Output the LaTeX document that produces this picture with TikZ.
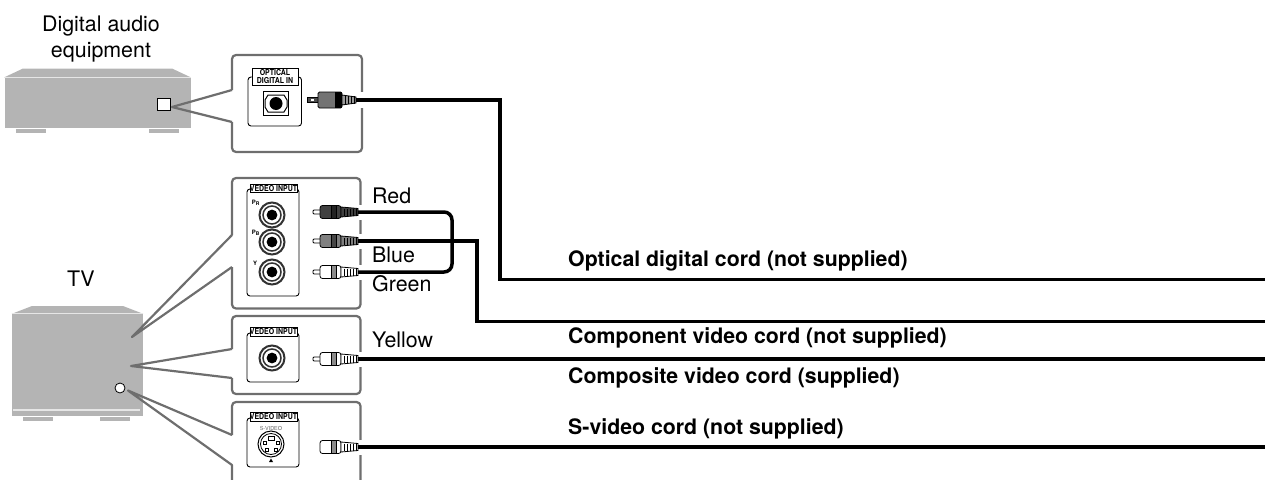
\documentclass[tikz,border=0pt]{standalone}
\usepackage{fontspec}
\setmainfont{TeX Gyre Heros}
\tikzset{
  gearbody/.style={fill=gearcol,inner sep=0pt,minimum width=#1},
  gearpart/.style={fill=gearcol,draw=none},
  gearline/.style={draw=gearlight,line width=1.2pt},
  callout/.style={draw=calloutcol,line width=2.2pt,line join=round},
  innerbox/.style={draw=black,line width=.9pt,rounded corners=3pt,fill=white},
  cord/.style={draw=black,line width=3.5pt,line join=miter},
  gaplabel/.style={font=\fontsize{21.4}{26}\selectfont,anchor=base west,inner sep=0pt},
  cordlabel/.style={font=\bfseries\fontsize{21.3}{25}\selectfont,anchor=base west,inner sep=0pt},
  tagbox/.style={draw=black,line width=.7pt,fill=white,inner sep=0pt,font=\bfseries\fontsize{8.2}{8.6}\selectfont,
    minimum height=8.5pt,xscale=.85,transform shape,align=center},
  tinylabel/.style={font=\bfseries\fontsize{6}{6}\selectfont,inner sep=0pt},
}
\definecolor{gearcol}{HTML}{B4B4B4}
\definecolor{gearlight}{HTML}{E6E6E6}
\definecolor{calloutcol}{HTML}{6E6E6E}
\definecolor{plugred}{HTML}{404040}
\definecolor{plugblue}{HTML}{808080}
\newcommand{\rcajack}[2]{%
  \node (#1) at #2 [circle,draw=black!80,line width=2pt,fill=white,minimum size=25pt,inner sep=0pt] {};
  \draw[black!80,line width=1.5pt] (#1) circle (9pt);
  \fill[black] (#1) circle (5.4pt);
}
\newcommand{\cordplug}[5]{%
  \coordinate (#1) at (358,#2);
  \fill[white] (353,#2-7.5) rectangle (367,#2+7.5);
  \ifx&#5&\else
  \draw[black,line width=.8pt,fill=white,rounded corners=1pt] (313,#2-2) rectangle (322,#2+2);
  \fi
  \draw[black,line width=.8pt,fill=#3,rounded corners=2.5pt] (#4,#2-6.5) rectangle (341,#2+6.5);
  \draw[black,line width=.8pt,fill=#3!55!black] (331,#2-6.5) rectangle (336,#2+6.5);
  \draw[black,line width=.8pt,fill=#3] (341,#2-5) -- (358,#2-3.5) -- (358,#2+3.5) -- (341,#2+5) -- cycle;
  \foreach \xpos in {344,347,...,356}
    \draw[black,line width=.9pt] (\xpos,#2-3.5) -- (\xpos,#2+3.5);
}
\begin{document}
\begin{tikzpicture}[x=1pt,y=-1pt]
  \useasboundingbox (0,0) rectangle (1265,479);
  \node (audio) at (97.5,102.5) [gearbody=186pt,minimum height=50pt] {};
  \fill[gearpart] (audio.north west) -- (23,68.5) -- (172,68.5) -- (audio.north east) -- cycle;
  \draw[gearline] (audio.north west) -- (audio.north east);
  \fill[gearpart] (16,129) rectangle (46,133);
  \fill[gearpart] (149,129) rectangle (179,133);
  \node (audiosocket) at (164,104) [draw=black,line width=.8pt,fill=white,minimum width=13pt,minimum height=12pt,inner sep=0pt] {};
  \node (audiotext) at (101,39.5) [font=\fontsize{21.4}{26}\selectfont,align=center,inner sep=0pt] {Digital audio\\equipment};
  \node (tv) at (77.5,365) [gearbody=131pt,minimum height=102pt] {};
  \fill[gearpart] (tv.north west) -- (32,306) -- (123,306) -- (tv.north east) -- cycle;
  \draw[gearline] (tv.north west) -- (tv.north east);
  \draw[gearline] (13,410) -- (140,410);
  \fill[gearpart] (23,417) rectangle (53,421);
  \fill[gearpart] (100,417) rectangle (130,421);
  \node (tvsocket) at (120,388) [circle,draw=black,line width=.8pt,fill=white,minimum size=10pt,inner sep=0pt] {};
  \node (tvtext) [gaplabel] at (67,286) {TV};
  \draw[callout,rounded corners=4pt] (232,90) -- (232,55) -- (362,55) -- (362,152) -- (232,152) -- (232,122);
  \draw[callout] (232,90) -- (172,107) -- (232,122);
  \draw[callout,rounded corners=4pt] (232,235) -- (232,178) -- (360.5,178) -- (360.5,308.5) -- (232,308.5) -- (232,267);
  \draw[callout] (232,235) -- (132,337) -- (232,267);
  \draw[callout,rounded corners=4pt] (232,349) -- (232,316) -- (360.5,316) -- (360.5,394) -- (232,394) -- (232,378);
  \draw[callout] (232,349) -- (131,366) -- (232,378);
  \draw[callout,rounded corners=4pt] (232,435) -- (232,402) -- (360.5,402) -- (360.5,480);
  \draw[callout] (232,435) -- (128,390.5) -- (232,465) -- (232,480);
  \draw[innerbox] (248,77) rectangle (301.5,126);
  \node (opttag) at (275,76.5) [tagbox,minimum width=54pt,minimum height=17pt] {OPTICAL\\DIGITAL IN};
  \node (optjack) at (276,103.5) [draw=black,line width=1pt,fill=white,minimum width=25pt,minimum height=24pt,inner sep=0pt] {};
  \draw[black,line width=1pt,fill=white] (268,95) -- (284,95) -- (287,100) -- (287,107) -- (284,112) -- (268,112) -- (265,107) -- (265,100) -- cycle;
  \fill[black] (optjack) circle (6.5pt);
  \draw[innerbox] (247,189) rectangle (299,296);
  \node (comptag) at (273.5,188.5) [tagbox,minimum width=55pt] {VEDEO INPUT};
  \rcajack{jackr}{(272,215)}
  \rcajack{jackb}{(272,242)}
  \rcajack{jacky}{(272,272)}
  \node (prtext) [tinylabel] at (256,203) {P\textsubscript{R}};
  \node (pbtext) [tinylabel] at (256,233) {P\textsubscript{B}};
  \node (ytext) [tinylabel] at (255,263) {Y};
  \draw[innerbox] (247,333) rectangle (299,382);
  \node (vidtag) at (273.5,332) [tagbox,minimum width=55pt] {VEDEO INPUT};
  \rcajack{jackv}{(272,358)}
  \draw[innerbox] (247,418) rectangle (299,467);
  \node (stag) at (273.5,417) [tagbox,minimum width=55pt] {VEDEO INPUT};
  \node (stext) at (271,428) [font=\fontsize{5.5}{5.5}\selectfont,text=black!60,inner sep=0pt] {S-VIDEO};
  \node (sjack) at (271,444) [circle,draw=black,line width=1pt,fill=white,minimum size=26pt,inner sep=0pt] {};
  \draw[black,line width=.8pt] (sjack) circle (10.5pt);
  \foreach \px/\py in {264.5/443,277.5/443,266.5/450,275.5/450}
    \draw[black,line width=.7pt] (\px-1.5,\py-1.5) rectangle (\px+1.5,\py+1.5);
  \draw[black,line width=.7pt] (268,436.5) rectangle (274,440.5);
  \fill[black] (269,462) -- (273,462) -- (271,458.5) -- cycle;
  \fill[white] (355,92) rectangle (368,108);
  \draw[black,line width=.8pt,fill=black!70] (307,97.5) rectangle (318,102.5);
  \fill[white] (311,99) rectangle (314,101);
  \draw[black,line width=.8pt,fill=black!55,rounded corners=1.5pt] (318,92) rectangle (342,108);
  \fill[black] (335,92) rectangle (342,108);
  \draw[black,line width=.8pt,fill=black!40] (342,95) -- (356,97) -- (356,103) -- (342,105) -- cycle;
  \foreach \xpos in {345,348,...,354}
    \draw[black,line width=.9pt] (\xpos,96) -- (\xpos,104);
  \coordinate (optplug) at (356,100);
  \cordplug{redplug}{212}{plugred}{320}{t}
  \cordplug{blueplug}{241}{plugblue}{320}{t}
  \cordplug{greenplug}{272}{white}{320}{t}
  \cordplug{yellowplug}{359}{white}{320}{t}
  \cordplug{splug}{447}{white}{320}{}
  \coordinate (optend) at (1265,279.5);
  \coordinate (blueend) at (1265,321.5);
  \coordinate (yellowend) at (1265,359);
  \coordinate (send) at (1265,447);
  \draw[cord] (optplug) -- ++(144,0) |- (optend);
  \draw[cord,rounded corners=8pt] (redplug) -- ++(94,0) |- (greenplug);
  \draw[cord] (blueplug) -- ++(119,0) |- (blueend);
  \draw[cord] (yellowplug) -- (yellowend);
  \draw[cord] (splug) -- (send);
  \node (redtext) [gaplabel] at (372,203) {Red};
  \node (bluetext) [gaplabel] at (372,262) {Blue};
  \node (greentext) [gaplabel] at (372,291) {Green};
  \node (yellowtext) [gaplabel] at (372,347) {Yellow};
  \node (opttext) [cordlabel] at (568,266) {Optical digital cord (not supplied)};
  \node (comptext) [cordlabel] at (568,343) {Component video cord (not supplied)};
  \node (vidtext) [cordlabel] at (568,383) {Composite video cord (supplied)};
  \node (stext2) [cordlabel] at (568,434) {S-video cord (not supplied)};
\end{tikzpicture}
\end{document}
